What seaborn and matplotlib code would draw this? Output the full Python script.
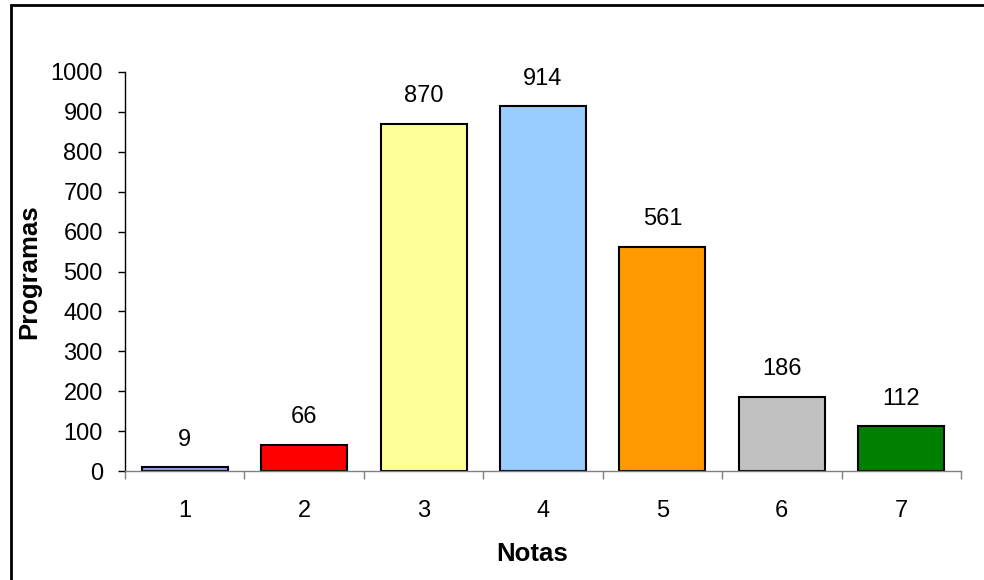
import matplotlib
matplotlib.use("Agg")
import matplotlib.pyplot as plt
import matplotlib.patches as mpatches
import numpy as np
import pandas as pd
import seaborn as sns

notas = ["1", "2", "3", "4", "5", "6", "7"]
programas = [9, 66, 870, 914, 561, 186, 112]
colores = ["#9999FF", "#FF0000", "#FFFF99", "#99CCFF", "#FF9900", "#C0C0C0", "#008000"]

sns.set_theme(style="white")
plt.rcParams['font.family'] = ['Liberation Sans', 'DejaVu Sans']
plt.rcParams['text.color'] = 'black'
plt.rcParams['axes.labelcolor'] = 'black'
plt.rcParams['xtick.color'] = 'black'
plt.rcParams['ytick.color'] = 'black'

df = pd.DataFrame({'Notas': notas, 'Programas': programas})

fig = plt.figure(figsize=(9.84, 5.8), dpi=100)
ax = fig.add_axes([125 / 984, 1 - 471 / 580, (961 - 125) / 984, (471 - 72) / 580])

sns.barplot(x='Notas', y='Programas', hue='Notas', data=df, palette=colores,
            legend=False, width=0.72, edgecolor='black', linewidth=1.5,
            saturation=1, ax=ax)

# value labels
for i, v in enumerate(programas):
    ax.annotate(str(v), (i, v), xytext=(0, 20), textcoords='offset points',
                ha='center', va='center', fontsize=17, color='black')

ax.set_xlim(-0.5, len(notas) - 0.5)
ax.set_ylim(0, 1000)
ax.set_yticks(np.arange(0, 1001, 100))

# tick marks between categories, labels at centers
ax.set_xticks(np.arange(-0.5, len(notas), 1), minor=True)
ax.tick_params(axis='x', which='major', length=0, pad=21, labelsize=17)
ax.tick_params(axis='x', which='minor', length=6, width=1, color='#808080',
               direction='out', bottom=True)
ax.tick_params(axis='y', which='major', length=5, width=1, color='black',
               direction='out', left=True, labelsize=17, pad=11)

for s in ['top', 'right']:
    ax.spines[s].set_visible(False)
ax.spines['left'].set_color('black')
ax.spines['left'].set_linewidth(1)
ax.spines['bottom'].set_color('#808080')
ax.spines['bottom'].set_linewidth(1)

ax.set_xlabel('Notas', fontsize=18.5, fontweight='bold')
ax.xaxis.set_label_coords((532 - 125) / 836, -(542 - 471) / 399)
ax.set_ylabel('Programas', fontsize=18.5, fontweight='bold')
ax.yaxis.set_label_coords(-(125 - 41) / 836, 0.5)

# outer chart border
fig.patches.append(mpatches.Rectangle((11 / 984, -0.05), 1.1, 1 - 5 / 580 + 0.05,
                                      transform=fig.transFigure, fill=False,
                                      edgecolor='black', linewidth=2))

fig.savefig('out.png', dpi=100)
